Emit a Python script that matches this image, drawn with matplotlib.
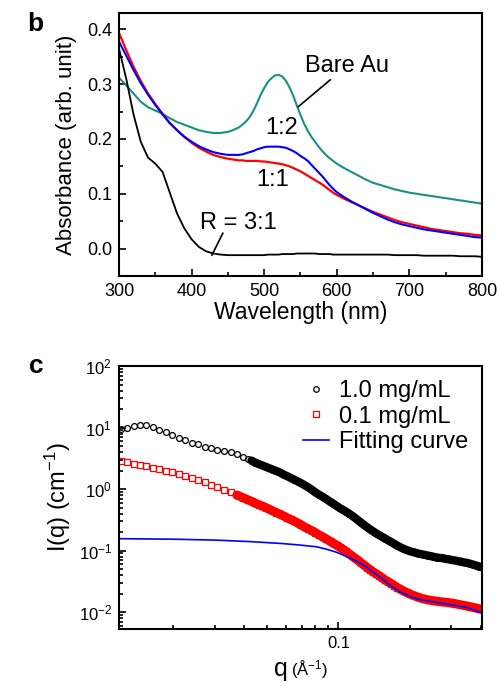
import numpy as np
import matplotlib
matplotlib.use('Agg')
import matplotlib.pyplot as plt
from matplotlib.ticker import MultipleLocator, FixedLocator, LogLocator, NullFormatter, FixedFormatter

plt.rcParams['font.family'] = ['Liberation Sans', 'DejaVu Sans']
plt.rcParams['mathtext.fontset'] = 'custom'
plt.rcParams['mathtext.rm'] = 'Liberation Sans'
plt.rcParams['mathtext.it'] = 'Liberation Sans:italic'

# ---- panel b: UV-vis absorbance ----
wavelength = [300, 310, 320, 330, 340, 350, 360, 370, 380, 390, 400, 410, 420, 430, 440, 450,
              455, 460, 465, 470, 475, 480, 485, 490, 495, 500, 505, 510, 515, 520, 525,
              530, 535, 540, 545, 550, 555, 560, 565, 570, 575, 580, 585, 590, 595, 600,
              610, 620, 630, 640, 650, 660, 670, 680, 690, 700, 710, 720, 730, 740, 750,
              760, 770, 780, 790, 800]
abs_r31 = [0.365, 0.31, 0.245, 0.195, 0.166, 0.155, 0.14, 0.102, 0.064, 0.037, 0.017, 0.003,
           -0.005, -0.009, -0.011, -0.012,
           -0.012, -0.012, -0.012, -0.012, -0.012, -0.012, -0.012, -0.012, -0.012, -0.012,
           -0.011, -0.011, -0.011, -0.011, -0.010, -0.010, -0.010, -0.010, -0.009, -0.009,
           -0.009, -0.009, -0.009, -0.009, -0.010, -0.010, -0.010, -0.010, -0.011, -0.011,
           -0.011, -0.011, -0.011, -0.011, -0.011, -0.011, -0.011, -0.012, -0.012, -0.012,
           -0.012, -0.013, -0.013, -0.013, -0.013, -0.013, -0.014, -0.014, -0.014, -0.015]
abs_r11 = [0.394, 0.362, 0.332, 0.306, 0.283, 0.264, 0.246, 0.229, 0.216, 0.204, 0.193, 0.184,
           0.177, 0.171, 0.167, 0.164,
           0.163, 0.162, 0.161, 0.161, 0.160, 0.160, 0.160, 0.160, 0.159, 0.159,
           0.158, 0.157, 0.156, 0.155, 0.154, 0.152, 0.150, 0.147, 0.144, 0.141,
           0.137, 0.133, 0.129, 0.125, 0.121, 0.117, 0.112, 0.107, 0.102, 0.098,
           0.091, 0.085, 0.079, 0.073, 0.067, 0.062, 0.057, 0.052, 0.048, 0.045,
           0.042, 0.039, 0.036, 0.034, 0.032, 0.030, 0.028, 0.027, 0.025, 0.024]
abs_r12 = [0.378, 0.352, 0.326, 0.302, 0.281, 0.262, 0.245, 0.229, 0.216, 0.204, 0.195, 0.187,
           0.181, 0.176, 0.173, 0.171,
           0.171, 0.171, 0.171, 0.172, 0.174, 0.176, 0.178, 0.181, 0.183, 0.185,
           0.186, 0.186, 0.186, 0.186, 0.185, 0.184, 0.181, 0.178, 0.174, 0.169,
           0.165, 0.160, 0.153, 0.146, 0.139, 0.132, 0.124, 0.116, 0.109, 0.103,
           0.094, 0.086, 0.079, 0.072, 0.065, 0.059, 0.053, 0.048, 0.044, 0.041,
           0.038, 0.035, 0.033, 0.031, 0.029, 0.027, 0.025, 0.023, 0.021, 0.020]
abs_bare = [0.312, 0.298, 0.283, 0.268, 0.258, 0.252, 0.246, 0.238, 0.231, 0.226, 0.221, 0.216,
            0.213, 0.211, 0.211, 0.213,
            0.215, 0.218, 0.221, 0.226, 0.232, 0.240, 0.251, 0.265, 0.280, 0.293,
            0.304, 0.311, 0.316, 0.317, 0.314, 0.306, 0.294, 0.279, 0.261, 0.244,
            0.228, 0.215, 0.204, 0.195, 0.186, 0.178, 0.171, 0.165, 0.160, 0.155,
            0.147, 0.140, 0.133, 0.126, 0.120, 0.116, 0.112, 0.108, 0.105, 0.102,
            0.100, 0.098, 0.096, 0.094, 0.092, 0.090, 0.088, 0.086, 0.084, 0.082]

# ---- panel c: SAXS ----
q = [0.0120, 0.0128, 0.0136, 0.0145, 0.0154, 0.0164, 0.0175, 0.0186, 0.0198, 0.0211,
     0.0225, 0.0240, 0.0255, 0.0272, 0.0290, 0.0308, 0.0328, 0.0350, 0.0372, 0.0396,
     0.0414, 0.0429, 0.0444, 0.0460, 0.0476, 0.0493, 0.0510, 0.0528, 0.0547, 0.0566,
     0.0586, 0.0607, 0.0628, 0.0650, 0.0673, 0.0697, 0.0721, 0.0747, 0.0773, 0.0800,
     0.0828, 0.0857, 0.0887, 0.0918, 0.0951, 0.0984, 0.1014, 0.1044, 0.1075, 0.1108,
     0.1141, 0.1175, 0.1210, 0.1247, 0.1284, 0.1323, 0.1362, 0.1403, 0.1445, 0.1489,
     0.1533, 0.1579, 0.1627, 0.1675, 0.1726, 0.1777, 0.1831, 0.1886, 0.1942, 0.2000,
     0.2060, 0.2122, 0.2186, 0.2251, 0.2319, 0.2388, 0.2460, 0.2534, 0.2610, 0.2688,
     0.2769, 0.2852, 0.2937, 0.3025, 0.3116, 0.3210, 0.3306, 0.3405, 0.3507, 0.3613,
     0.3721, 0.3833, 0.3948, 0.4000]
I_10 = [9.5, 10.0, 10.5, 10.8, 10.8, 10.2, 9.2, 8.4, 7.6, 6.8,
        6.2, 5.7, 5.3, 4.9, 4.6, 4.35, 4.2, 4.0, 3.7, 3.35,
        3.1, 2.9, 2.7, 2.55, 2.42, 2.3, 2.18, 2.07, 1.96, 1.86,
        1.72, 1.62, 1.52, 1.42, 1.33, 1.24, 1.15, 1.06, 0.97, 0.88,
        0.81, 0.75, 0.69, 0.63, 0.58, 0.53, 0.49, 0.46, 0.43, 0.40,
        0.37, 0.34, 0.31, 0.285, 0.26, 0.24, 0.22, 0.205, 0.19, 0.178,
        0.167, 0.156, 0.146, 0.137, 0.128, 0.12, 0.113, 0.107, 0.102, 0.098,
        0.095, 0.092, 0.089, 0.087, 0.085, 0.083, 0.081, 0.079, 0.077, 0.076,
        0.075, 0.073, 0.072, 0.070, 0.069, 0.067, 0.066, 0.064, 0.063, 0.061,
        0.059, 0.057, 0.055, 0.054]
I_01 = [2.9, 2.75, 2.6, 2.47, 2.35, 2.22, 2.1, 1.98, 1.86, 1.74,
        1.62, 1.5, 1.39, 1.28, 1.17, 1.07, 0.98, 0.89, 0.80, 0.72,
        0.67, 0.63, 0.59, 0.56, 0.53, 0.50, 0.47, 0.44, 0.415, 0.39,
        0.365, 0.34, 0.32, 0.30, 0.28, 0.26, 0.24, 0.225, 0.21, 0.195,
        0.18, 0.168, 0.155, 0.143, 0.132, 0.122, 0.113, 0.105, 0.097, 0.089,
        0.082, 0.075, 0.069, 0.063, 0.058, 0.053, 0.049, 0.045, 0.042, 0.039,
        0.036, 0.033, 0.031, 0.029, 0.027, 0.025, 0.0235, 0.022, 0.0208, 0.0197,
        0.0188, 0.018, 0.0173, 0.0167, 0.0162, 0.0158, 0.0155, 0.0152, 0.015, 0.0148,
        0.0146, 0.0144, 0.0142, 0.014, 0.0137, 0.0134, 0.0131, 0.0128, 0.0125, 0.0122,
        0.0119, 0.0116, 0.0113, 0.0112]
q_fit = [0.0118, 0.02, 0.03, 0.042, 0.058, 0.07, 0.081, 0.09, 0.098, 0.11, 0.123, 0.135,
         0.154, 0.168, 0.181, 0.2, 0.214, 0.23, 0.25, 0.27, 0.295, 0.32, 0.35, 0.375, 0.40]
I_fit = [0.156, 0.153, 0.148, 0.14, 0.13, 0.122, 0.115, 0.104, 0.094, 0.078, 0.063, 0.05,
         0.034, 0.026, 0.0215, 0.018, 0.0165, 0.0155, 0.0147, 0.014, 0.0133, 0.0126, 0.0118,
         0.0108, 0.0098]

teal = '#1a9085'

fig = plt.figure(figsize=(4.97, 6.87), dpi=100)
ax1 = fig.add_axes([0.2394, 0.5983, 0.7304, 0.3828])
ax2 = fig.add_axes([0.2394, 0.0844, 0.7304, 0.3828])

# panel b
ax1.plot(wavelength, abs_bare, color=teal, lw=1.5)
ax1.plot(wavelength, abs_r11, color='red', lw=1.6)
ax1.plot(wavelength, abs_r12, color='blue', lw=1.5)
ax1.plot(wavelength, abs_r31, color='black', lw=1.3)
ax1.set_xlim(300, 800)
ax1.set_ylim(-0.05, 0.43)
ax1.xaxis.set_major_locator(MultipleLocator(100))
ax1.xaxis.set_minor_locator(MultipleLocator(50))
ax1.yaxis.set_major_locator(MultipleLocator(0.1))
ax1.yaxis.set_minor_locator(MultipleLocator(0.05))
ax1.yaxis.set_major_formatter(matplotlib.ticker.FormatStrFormatter('%.1f'))
ax1.set_xlabel('Wavelength (nm)', fontsize=16.5, labelpad=1)
ax1.set_ylabel('Absorbance (arb. unit)', fontsize=16, labelpad=7)

ax1.text(614, 0.334, 'Bare Au', fontsize=17, ha='center', va='center')
ax1.plot([591, 547], [0.308, 0.259], color='black', lw=1.2)
ax1.text(524, 0.22, '1:2', fontsize=17, ha='center', va='center')
ax1.text(511, 0.125, '1:1', fontsize=17, ha='center', va='center')
ax1.text(464, 0.046, 'R = 3:1', fontsize=17, ha='center', va='center')
ax1.plot([443, 428], [0.028, -0.012], color='black', lw=1.2)

# panel c: dense data points merge into a solid band at higher q
ax2.loglog(q[21:], I_10[21:], '-', color='black', lw=6, solid_capstyle='round')
ax2.loglog(q[18:], I_01[18:], '-', color='red', lw=6.5, solid_capstyle='round')
ax2.loglog(q, I_10, 'o', mfc='none', mec='black', ms=4.2, mew=0.9, label='1.0 mg/mL')
ax2.loglog(q, I_01, 's', mfc='none', mec='red', ms=4.2, mew=0.9, label='0.1 mg/mL')
ax2.loglog(q_fit, I_fit, '-', color='blue', lw=1.2, label='Fitting curve')
ax2.set_xlim(0.0118, 0.405)
ax2.set_ylim(0.0053, 100)
ax2.xaxis.set_major_locator(FixedLocator([0.1]))
ax2.xaxis.set_major_formatter(FixedFormatter(['0.1']))
ax2.xaxis.set_minor_locator(LogLocator(base=10, subs=np.arange(2, 10)))
ax2.xaxis.set_minor_formatter(NullFormatter())
ax2.yaxis.set_major_locator(LogLocator(base=10, numticks=10))
ax2.yaxis.set_minor_locator(LogLocator(base=10, subs=np.arange(2, 10), numticks=10))
ax2.yaxis.set_minor_formatter(NullFormatter())
ax2.set_ylabel('I(q) (cm$^{-1}$)', fontsize=17, labelpad=4)
ax2.legend(loc='upper right', frameon=False, fontsize=17, numpoints=1, markerscale=0.95,
           handlelength=1.1, handletextpad=0.4, labelspacing=0.15,
           borderaxespad=0.2)

fig.text(288 / 497, 1 - 676 / 687, 'q', fontsize=18, ha='right', va='baseline')
fig.text(291 / 497, 1 - 676 / 687, '(Å$^{-1}$)', fontsize=12, ha='left', va='baseline')

for ax in (ax1, ax2):
    for sp in ax.spines.values():
        sp.set_linewidth(1.5)
    ax.tick_params(which='both', direction='in', top=False, right=False, width=1.2)
    ax.tick_params(which='major', length=5)
    ax.tick_params(which='minor', length=3)

ax1.tick_params(which='major', labelsize=13, pad=5)
ax2.tick_params(which='major', labelsize=12, pad=5)

fig.text(0.072, 0.965, 'b', fontsize=19, fontweight='bold', ha='center', va='center')
fig.text(0.074, 0.467, 'c', fontsize=19, fontweight='bold', ha='center', va='center')

plt.savefig('out.png', dpi=100)
